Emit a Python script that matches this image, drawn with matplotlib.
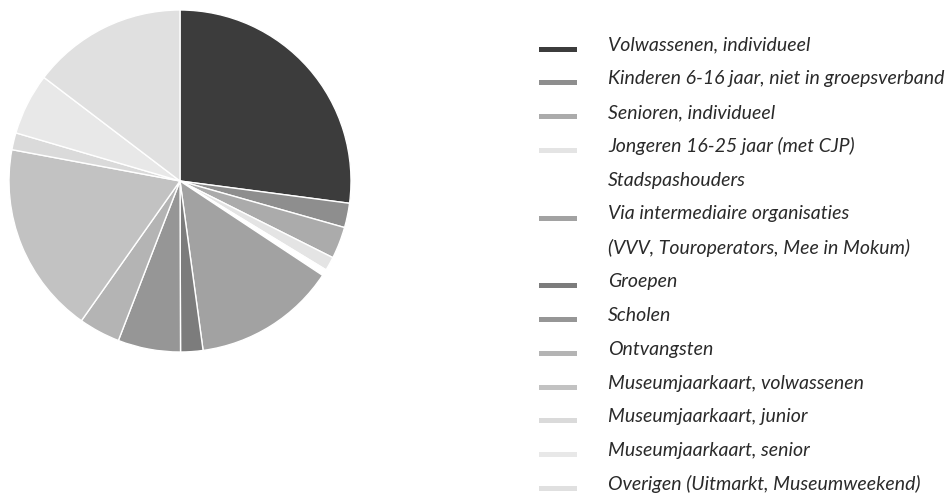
import matplotlib
matplotlib.use("Agg")
import matplotlib.pyplot as plt
from matplotlib.patches import Rectangle

# ===================================

categories = [
    "Volwassenen, individueel",
    "Kinderen 6-16 jaar, niet in groepsverband",
    "Senioren, individueel",
    "Jongeren 16-25 jaar (met CJP)",
    "Stadspashouders",
    "Via intermediaire organisaties\n(VVV, Touroperators, Mee in Mokum)",
    "Groepen",
    "Scholen",
    "Ontvangsten",
    "Museumjaarkaart, volwassenen",
    "Museumjaarkaart, junior",
    "Museumjaarkaart, senior",
    "Overigen (Uitmarkt, Museumweekend)",
]
shares = [27.0, 2.3, 3.0, 1.3, 0.6, 13.5, 2.1, 5.9, 3.9, 18.1, 1.6, 5.8, 14.6]

colors = ["#3c3c3c", "#8e8e8e", "#ababab", "#e4e4e4", "#ffffff", "#a2a2a2",
          "#7c7c7c", "#969696", "#b4b4b4", "#c2c2c2", "#dadada", "#e8e8e8",
          "#e0e0e0"]

W, H = 949, 497
fig = plt.figure(figsize=(W / 100, H / 100), dpi=100)

# pie: centre (180, 181) px, radius 171 px
cx, cy, r = 180, 181, 171
ax = fig.add_axes([(cx - r) / W, (H - cy - r) / H, 2 * r / W, 2 * r / H])
ax.pie(shares, colors=colors, startangle=90, counterclock=False,
       wedgeprops=dict(edgecolor="white", linewidth=1.0))
ax.set_xlim(-1, 1)
ax.set_ylim(-1, 1)
ax.set_aspect("equal")
ax.axis("off")

# legend, drawn by hand
font = dict(family="Lato", style="italic", fontsize=14, color="#2a2a2a")
row_y0, row_step = 45, 33.8
row = 0
for name, c in zip(categories, colors):
    y = row_y0 + row * row_step
    sy = y + 4
    fig.patches.append(Rectangle((539 / W, 1 - (sy + 2.5) / H), 38 / W, 5 / H,
                                 transform=fig.transFigure, facecolor=c,
                                 edgecolor="none"))
    for line in name.split("\n"):
        y = row_y0 + row * row_step
        fig.text(608 / W, 1 - y / H, line, va="center", ha="left", **font)
        row += 1

plt.savefig("out.png", dpi=100)
